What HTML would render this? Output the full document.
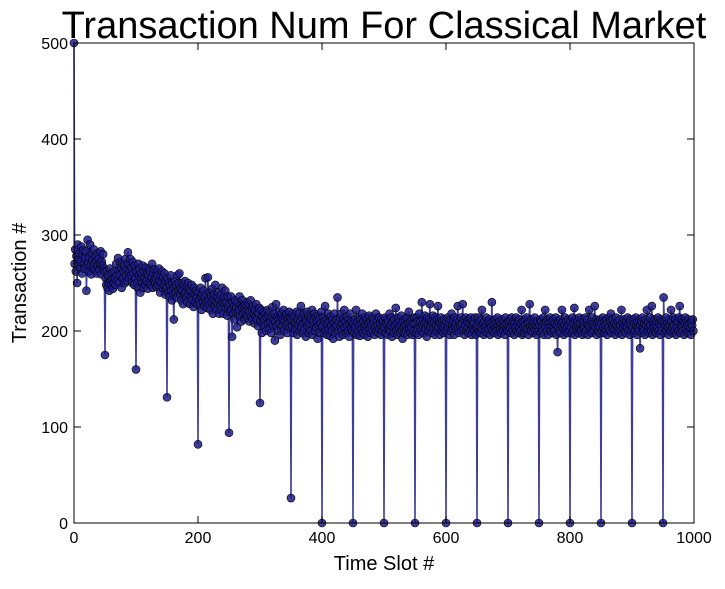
<!DOCTYPE html>
<html><head><meta charset="utf-8"><style>
body{margin:0;background:#fff;}
svg text{font-family:"Liberation Sans","DejaVu Sans",sans-serif;}
</style></head><body>
<svg id="chart" width="725" height="584" xmlns="http://www.w3.org/2000/svg">
<rect width="725" height="584" fill="#fff"/>
<text x="384" y="38" font-size="38" text-anchor="middle" fill="#000">Transaction Num For Classical Market</text>
<g id="plot"></g>
<g id="axes"></g>
<text x="384" y="570" font-size="20" text-anchor="middle">Time Slot #</text>
<text transform="translate(26,283) rotate(-90)" font-size="20" text-anchor="middle">Transaction #</text>
</svg>
<script>
const xTicks=[0,200,400,600,800,1000];
const yTicks=[0,100,200,300,400,500];
const transactions=[
500,270,285,262,278,250,290,268,275,281,266,272,288,260,279,284,270,265,276,283,242,268,295,271,262,277,290,268,259,281,274,266,285,270,263,278,272,260,268,281,275,264,270,283,259,272,268,280,265,262,
175,255,248,262,245,258,250,242,265,252,248,260,254,244,250,262,255,248,270,258,252,276,263,250,258,272,266,245,270,255,262,268,250,275,258,264,252,282,270,255,262,275,258,266,250,272,260,248,268,255,
160,262,250,245,270,258,265,240,255,260,250,268,245,262,255,248,266,252,260,244,258,265,250,262,248,256,270,245,260,252,264,250,255,246,262,258,248,265,252,240,258,250,262,245,256,248,260,238,252,245,
131,255,240,250,236,248,258,242,232,250,238,212,245,252,240,248,235,258,242,250,260,238,245,232,250,242,228,248,238,252,240,235,246,230,250,238,244,228,242,236,248,232,240,225,245,238,230,242,235,228,
82,240,232,228,245,236,222,238,230,242,226,235,255,230,238,224,256,232,228,240,222,236,230,244,218,232,238,226,248,230,222,236,228,240,218,232,226,238,222,245,230,218,235,228,242,224,230,216,236,225,
94,228,220,236,222,194,230,218,226,212,232,220,225,204,230,218,222,236,215,228,210,224,232,218,226,212,228,220,216,230,214,222,228,210,220,232,215,224,212,226,218,208,222,215,228,212,220,205,218,224,
125,210,222,198,215,208,220,212,205,218,200,214,222,208,216,202,220,210,198,215,225,206,212,218,190,210,228,205,215,200,212,220,208,196,214,218,205,212,222,200,210,216,206,218,198,212,208,220,204,214,
26,212,205,218,198,210,216,202,208,220,196,212,206,218,200,210,226,204,214,198,208,218,202,212,194,210,220,205,216,198,208,214,200,212,222,196,210,206,218,200,214,204,210,192,216,206,212,198,208,220,
0,205,214,198,210,226,200,212,196,208,218,202,210,195,215,206,200,212,192,208,218,204,198,212,206,235,200,210,194,214,205,218,200,208,196,212,222,204,210,198,215,206,200,212,194,208,218,202,210,200,
0,208,198,212,204,222,196,210,200,214,206,195,212,202,208,218,198,210,204,196,214,206,200,212,194,208,216,202,210,198,206,214,200,208,212,196,204,218,200,210,206,198,214,202,208,196,212,204,200,210,
0,204,214,198,208,212,196,210,202,218,200,206,214,194,210,204,198,212,206,224,200,208,196,214,204,210,198,206,216,200,192,210,204,198,212,206,200,214,196,208,220,202,210,198,204,212,196,208,200,214,
0,208,198,214,202,210,196,218,204,210,200,230,206,212,198,208,216,202,210,194,214,206,200,212,228,204,210,198,208,216,202,210,196,214,206,200,212,226,204,210,196,208,214,200,210,204,198,212,206,200,
0,210,200,214,204,208,196,212,200,218,206,202,210,196,214,204,208,200,212,226,204,198,210,206,214,200,208,228,202,212,196,206,214,200,210,204,198,212,208,200,214,196,206,210,202,208,200,214,196,204,
0,206,214,200,210,204,198,212,222,202,208,196,210,204,200,214,206,198,210,202,212,196,208,204,230,200,210,206,198,212,204,208,200,214,196,206,210,202,208,198,212,204,200,210,206,196,214,202,208,200,
0,210,200,212,204,198,214,206,200,210,196,208,204,214,200,206,210,198,212,204,200,208,222,196,210,204,198,212,206,200,214,202,208,196,210,228,204,200,212,206,198,210,204,214,200,206,196,210,204,200,
0,206,212,198,210,204,200,214,196,208,222,204,210,200,212,196,208,204,214,200,206,210,198,212,204,200,208,214,196,206,178,210,204,200,212,198,208,222,204,210,196,206,214,200,210,204,198,212,206,200,
0,210,204,198,214,200,208,224,196,212,204,200,210,206,198,214,202,208,200,212,196,206,210,204,198,214,200,208,212,196,206,222,204,200,210,198,214,206,200,208,226,204,212,196,208,200,210,204,198,212,
0,208,200,214,204,198,210,206,200,212,196,208,204,214,200,210,218,198,206,212,204,200,208,196,214,206,200,210,204,198,212,206,200,222,196,208,204,212,200,206,198,210,204,214,200,208,196,212,206,200,
0,204,212,198,208,200,214,206,196,210,204,200,212,182,206,210,198,214,204,200,208,196,212,206,222,200,210,204,198,214,206,200,226,196,208,204,212,200,206,198,210,204,214,200,208,196,212,206,200,210,
0,235,210,198,206,214,200,208,204,196,212,206,200,222,210,204,198,214,206,200,212,196,208,204,210,200,214,226,198,206,212,204,200,210,196,208,214,202,210,206,198,212,200,208,204,196,210,206,212,200
];
const L=74,R=694,T=43,B=523,XMAX=1000,YMAX=500;
const sx=v=>L+(R-L)*v/XMAX, sy=v=>B-(B-T)*v/YMAX;
const NS="http://www.w3.org/2000/svg";
const plot=document.getElementById('plot'), axes=document.getElementById('axes');
function mk(tag,attrs,parent){const e=document.createElementNS(NS,tag);for(const k in attrs)e.setAttribute(k,attrs[k]);parent.appendChild(e);return e;}
const cp=mk('clipPath',{id:'clip'},plot);mk('rect',{x:L-6,y:T-6,width:R-L+12,height:B-T+12},cp);
const g=mk('g',{'clip-path':'url(#clip)'},plot);
const pts=transactions.map((v,i)=>sx(i).toFixed(2)+','+sy(v).toFixed(2)).join(' ');
const line=mk('polyline',{points:pts,fill:'none',stroke:'#2a2a90',"stroke-width":1.6,"stroke-opacity":0.9},g);


transactions.forEach((v,i)=>{
  const c=mk('circle',{cx:sx(i),cy:sy(v),r:4,fill:'#1c1c88','fill-opacity':0.85,stroke:'#000','stroke-width':0.6},g);
  
  
});
const frame=mk('rect',{x:L,y:T,width:R-L,height:B-T,fill:'none',stroke:'#000','stroke-width':1},axes);


xTicks.forEach(t=>{
  const x=sx(t);
  mk('line',{x1:x,x2:x,y1:B,y2:B-7,stroke:'#000'},axes);
  mk('line',{x1:x,x2:x,y1:T,y2:T+7,stroke:'#000'},axes);
  const tx=mk('text',{x:x,y:B+20,'font-size':16,'text-anchor':'middle'},axes);
  tx.textContent=t;
  
  
});
yTicks.forEach(t=>{
  const y=sy(t);
  mk('line',{x1:L,x2:L+7,y1:y,y2:y,stroke:'#000'},axes);
  mk('line',{x1:R,x2:R-7,y1:y,y2:y,stroke:'#000'},axes);
  const tx=mk('text',{x:L-6,y:y+6,'font-size':16,'text-anchor':'end'},axes);
  tx.textContent=t;
  
  
});
</script>
</body></html>
